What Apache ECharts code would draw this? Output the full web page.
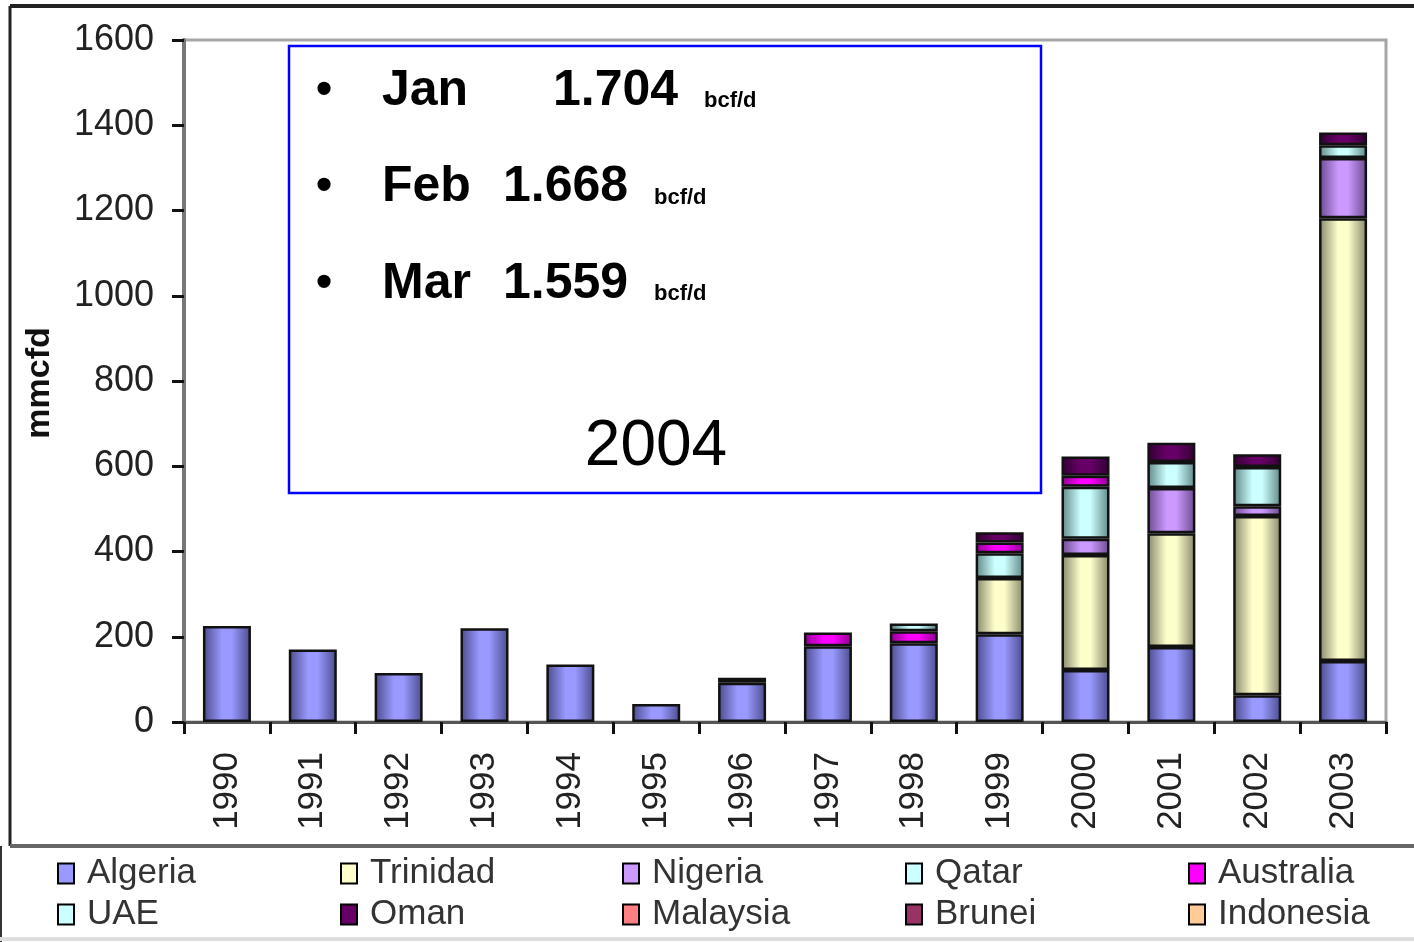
<!DOCTYPE html>
<html>
<head>
<meta charset="utf-8">
<script src="https://cdn.jsdelivr.net/npm/echarts@6/dist/echarts.min.js"></script>
<style>
  html, body { margin: 0; padding: 0; background: #fff; }
  #chart { width: 1414px; height: 942px; }
</style>
</head>
<body>
<div id="chart"></div>
<script>
// LNG imports, mmcfd, by supplier country
const years = ['1990', '1991', '1992', '1993', '1994', '1995', '1996', '1997', '1998', '1999', '2000', '2001', '2002', '2003'];
const yTicks = [0, 200, 400, 600, 800, 1000, 1200, 1400, 1600];

const algeria   = [225, 170, 115, 220, 135, 42, 92, 178, 185, 206, 122, 176, 63, 143];
const trinidad  = [null, null, null, null, null, null, null, null, null, 132, 270, 267, 420, 1039];
const nigeria   = [null, null, null, null, null, null, null, null, null, null, 38, 106, 23, 141];
const qatar     = [null, null, null, null, null, null, 12, null, null, 58, 122, 61, 92, 30];
const australia = [null, null, null, null, null, null, null, 32, 28, 25, 26, null, null, null];
const uae       = [null, null, null, null, null, null, null, null, 18, null, null, null, null, null];
const oman      = [null, null, null, null, null, null, null, null, null, 24, 45, 45, 30, 30];
const malaysia  = [null, null, null, null, null, null, null, null, null, null, null, null, null, null];
const brunei    = [null, null, null, null, null, null, null, null, null, null, null, null, null, null];
const indonesia = [null, null, null, null, null, null, null, null, null, null, null, null, null, null];

const notes = [
  { month: 'Jan', value: '1.704', unit: 'bcf/d' },
  { month: 'Feb', value: '1.668', unit: 'bcf/d' },
  { month: 'Mar', value: '1.559', unit: 'bcf/d' }
];

const seriesDefs = [
  { name: 'Algeria',   data: algeria,   color: '#9999FF', dark: '#4a4a8a' },
  { name: 'Trinidad',  data: trinidad,  color: '#FFFFCC', dark: '#85856a' },
  { name: 'Nigeria',   data: nigeria,   color: '#CC99FF', dark: '#694a8c' },
  { name: 'Qatar',     data: qatar,     color: '#CCFFFF', dark: '#5f8585' },
  { name: 'Australia', data: australia, color: '#FF00FF', dark: '#8a008a' },
  { name: 'UAE',       data: uae,       color: '#CCFFFF', dark: '#4f7575' },
  { name: 'Oman',      data: oman,      color: '#660066', dark: '#300030' },
  { name: 'Malaysia',  data: malaysia,  color: '#FF8080', dark: '#8a4444' },
  { name: 'Brunei',    data: brunei,    color: '#993366', dark: '#4d1a33' },
  { name: 'Indonesia', data: indonesia, color: '#FFCC99', dark: '#8a6e52' }
];

function shade(s) {
  return new echarts.graphic.LinearGradient(0, 0, 1, 0, [
    { offset: 0, color: s.dark },
    { offset: 0.4, color: s.color },
    { offset: 0.6, color: s.color },
    { offset: 1, color: s.dark }
  ]);
}

const legendX = [57, 340, 622, 905, 1188];
const legendY = [856, 897];

const chart = echarts.init(document.getElementById('chart'));

const option = {
  animation: false,
  backgroundColor: '#fff',
  grid: {
    left: 184, right: 28, top: 40, bottom: 220,
    show: true, borderColor: '#a6a6a6', borderWidth: 3, backgroundColor: 'transparent'
  },
  legend: seriesDefs.map((s, i) => ({
    left: legendX[i % 5],
    top: legendY[Math.floor(i / 5)],
    padding: 0,
    icon: 'rect',
    itemWidth: 16,
    itemHeight: 20,
    itemGap: 4,
    selectedMode: false,
    textStyle: { fontFamily: 'Liberation Sans', fontSize: 35, color: '#333', padding: [0, 0, 0, 8] },
    data: [{ name: s.name, itemStyle: { color: s.color, borderColor: '#000', borderWidth: 2 } }]
  })),
  xAxis: {
    type: 'category',
    data: years,
    axisLine: { lineStyle: { color: '#555', width: 3 } },
    axisTick: { show: true, length: 12, lineStyle: { color: '#111', width: 3 } },
    axisLabel: {
      rotate: 90, margin: 30, fontFamily: 'Liberation Sans', fontSize: 35, color: '#222'
    }
  },
  yAxis: {
    type: 'value',
    min: 0, max: 1600, interval: 200,
    axisLine: { show: true, lineStyle: { color: '#777', width: 4 } },
    axisTick: { show: true, inside: false, length: 12, lineStyle: { color: '#111', width: 3 } },
    splitLine: { show: false },
    axisLabel: {
      margin: 30, fontFamily: 'Liberation Sans', fontSize: 36, color: '#222',
      formatter: v => (yTicks.indexOf(v) >= 0 ? String(v) : '')
    }
  },
  series: seriesDefs.map(s => ({
    name: s.name,
    type: 'bar',
    stack: 'total',
    barWidth: 48,
    data: s.data,
    itemStyle: { color: shade(s), borderColor: '#111', borderWidth: 2.5 }
  })),
  graphic: [
    // outer frame
    { type: 'line', shape: { x1: 10, y1: 6, x2: 1414, y2: 6 }, style: { stroke: '#222', lineWidth: 4 } },
    { type: 'line', shape: { x1: 10, y1: 6, x2: 10, y2: 846 }, style: { stroke: '#222', lineWidth: 3 } },
    { type: 'line', shape: { x1: 10, y1: 846, x2: 1414, y2: 846 }, style: { stroke: '#666', lineWidth: 4 } },
    { type: 'line', shape: { x1: 1, y1: 846, x2: 1, y2: 942 }, style: { stroke: '#333', lineWidth: 2 } },
    { type: 'line', shape: { x1: 0, y1: 939, x2: 1414, y2: 939 }, style: { stroke: '#ddd', lineWidth: 4 } },
    // y axis title
    {
      type: 'text', x: 40, y: 383, rotation: Math.PI / 2,
      style: {
        text: 'mmcfd', fontFamily: 'Liberation Sans', fontWeight: 'bold', fontSize: 34,
        fill: '#111', align: 'center', verticalAlign: 'middle'
      }
    },
    // note box
    {
      type: 'rect', shape: { x: 289, y: 46, width: 752, height: 447 },
      style: { fill: '#fff', stroke: '#0000ff', lineWidth: 2.5 }, z: 10
    },
    ...notes.flatMap((n, i) => {
      const mid = 91 + i * 96.5;
      const valX = i === 0 ? 553 : 503;
      const unitX = i === 0 ? 704 : 654;
      const big = { fontFamily: 'Liberation Sans', fontWeight: 'bold', fontSize: 50, fill: '#000', verticalAlign: 'middle' };
      return [
        { type: 'text', x: 316, y: mid, z: 11, style: { ...big, text: '•', fontSize: 46 } },
        { type: 'text', x: 382, y: mid, z: 11, style: { ...big, text: n.month } },
        { type: 'text', x: valX, y: mid, z: 11, style: { ...big, text: n.value } },
        { type: 'text', x: unitX, y: mid + 10, z: 11, style: { ...big, text: n.unit, fontSize: 22 } }
      ];
    }),
    {
      type: 'text', x: 656, y: 447, z: 11,
      style: {
        text: '2004', fontFamily: 'Liberation Sans', fontSize: 64, fill: '#000',
        align: 'center', verticalAlign: 'middle'
      }
    }
  ]
};

chart.setOption(option);
</script>
</body>
</html>
